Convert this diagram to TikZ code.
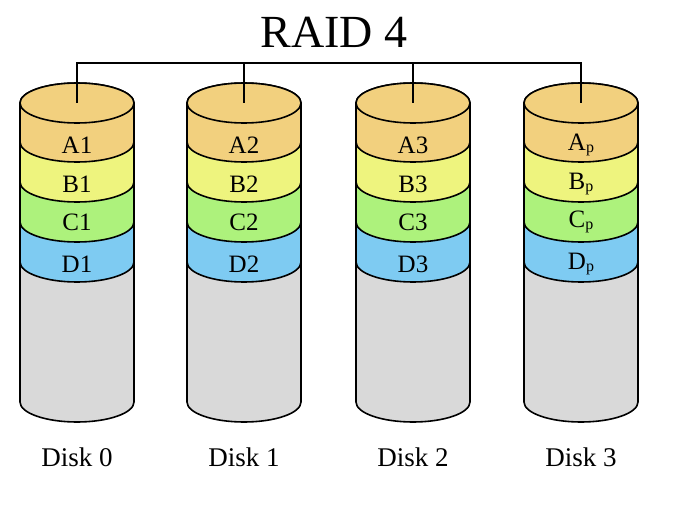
\documentclass[tikz,border=0pt]{standalone}
\usepackage{fontspec}
\setmainfont{Liberation Serif}
\definecolor{cA}{HTML}{F2D07E}
\definecolor{cB}{HTML}{EEF47E}
\definecolor{cC}{HTML}{ADF27C}
\definecolor{cD}{HTML}{7ECBF2}
\definecolor{cE}{HTML}{D9D9D9}
\tikzset{
  band/.style={draw=black, line width=1.6pt, line join=round},
  lbl/.style={font=\fontsize{25}{25}\selectfont, inner sep=0pt},
  dlbl/.style={font=\fontsize{27}{27}\selectfont, inner sep=0pt},
  conn/.style={draw=black, line width=1.6pt},
}
\newcommand\sub[1]{\raisebox{-1.5pt}{\fontsize{16}{16}\selectfont #1}}
\begin{document}
\begin{tikzpicture}[x=1pt,y=-1pt]
\useasboundingbox (0,0) rectangle (693,508);
\node[font=\fontsize{46}{46}\selectfont, inner sep=0pt] (title) at (334,32) {RAID 4};
\foreach \i/\cx/\la/\lb/\lc/\ld in {0/77/A1/B1/C1/D1, 1/244/A2/B2/C2/D2, 2/413/A3/B3/C3/D3, 3/581/A\sub{p}/B\sub{p}/C\sub{p}/D\sub{p}}{
  % body
  \path[band, fill=cE] ({\cx-57},262) -- ({\cx-57},402) arc[start angle=180, end angle=0, x radius=57, y radius=20] -- ({\cx+57},262) arc[start angle=0, end angle=-180, x radius=57, y radius=20] -- cycle;
  \foreach \yt/\yb/\col in {222/262/cD, 182/222/cC, 142/182/cB, 103/142/cA}{
    \path[band, fill=\col] ({\cx-57},\yt) -- ({\cx-57},\yb) arc[start angle=180, end angle=0, x radius=57, y radius=20] -- ({\cx+57},\yt) arc[start angle=0, end angle=-180, x radius=57, y radius=20] -- cycle;
  }
  \path[band, fill=cA] (\cx,103) ellipse[x radius=57, y radius=20];
  \coordinate (top\i) at (\cx,103);
  \node[lbl] (a\i) at (\cx,145) {\la};
  \node[lbl] (b\i) at (\cx,184) {\lb};
  \node[lbl] (c\i) at (\cx,222) {\lc};
  \node[lbl] (d\i) at (\cx,264) {\ld};
  \node[dlbl] (disk\i) at (\cx,457) {Disk \i};
}
\draw[conn] (top0) -- ([yshift=40pt]top0) -- ([yshift=40pt]top3) -- (top3);
\draw[conn] (top1) -- ([yshift=40pt]top1);
\draw[conn] (top2) -- ([yshift=40pt]top2);
\end{tikzpicture}
\end{document}
